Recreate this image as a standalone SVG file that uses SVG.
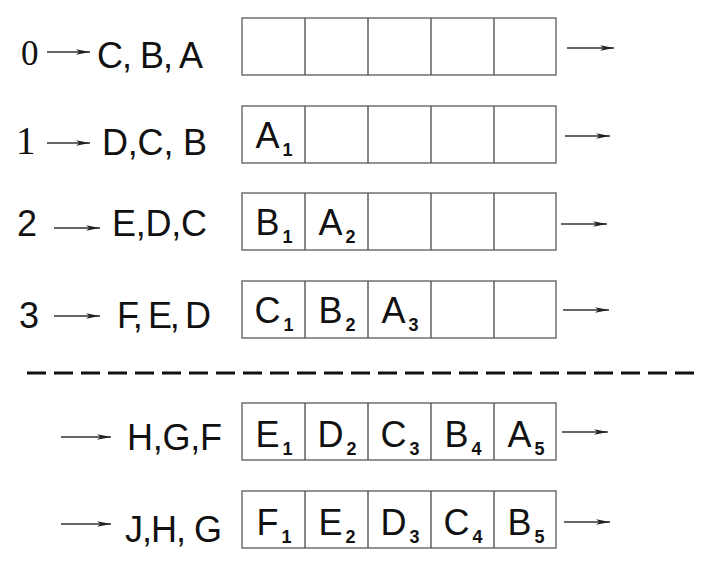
<svg xmlns="http://www.w3.org/2000/svg" width="714" height="572" viewBox="0 0 714 572">
<defs>
<style>
.cell{fill:#fff;stroke:#666;stroke-width:1.4}
.div{stroke:#555;stroke-width:1.4}
.lbl{font-family:"Liberation Sans",Arial,sans-serif;font-size:36px;fill:#111}
.num{font-family:"Liberation Serif","Times New Roman",serif;fill:#111}
.numS{font-family:"Liberation Sans",Arial,sans-serif;fill:#111}
.ct{font-family:"Liberation Sans",Arial,sans-serif;font-size:36px;fill:#111;text-anchor:middle}
.sub{font-size:18px;font-weight:bold}
.arr{stroke:#333;stroke-width:1.7;fill:none;marker-end:url(#ah)}
.dash{stroke:#111;stroke-width:3.2;stroke-dasharray:19 8;fill:none}
</style>
<marker id="ah" markerUnits="userSpaceOnUse" markerWidth="18" markerHeight="10" refX="14" refY="5" orient="auto">
<path d="M0,2.2 L14,5 L0,7.8 L3.5,5 Z" fill="#222"/>
</marker>
</defs>
<rect width="714" height="572" fill="#fff"/>

<g id="row0">
<text class="num" x="21" y="65" font-size="35">0</text>
<text class="lbl" x="97" y="68" textLength="106" lengthAdjust="spacing">C, B, A</text>
<rect class="cell" x="242" y="18" width="314" height="57"/>
<path class="div" d="M305,18V75M368,18V75M431,18V75M494,18V75"/>
</g>

<g id="row1">
<text class="num" x="16" y="154" font-size="39">1</text>
<text class="lbl" x="102" y="155" textLength="105" lengthAdjust="spacing">D,C, B</text>
<rect class="cell" x="242" y="106" width="314" height="57"/>
<path class="div" d="M305,106V163M368,106V163M431,106V163M494,106V163"/>
<text class="ct" x="274" y="148">A<tspan class="sub" dx="3" dy="8">1</tspan></text>
</g>

<g id="row2">
<text class="numS" x="17" y="236" font-size="36">2</text>
<text class="lbl" x="112" y="236" textLength="95" lengthAdjust="spacing">E,D,C</text>
<rect class="cell" x="242" y="193" width="314" height="57"/>
<path class="div" d="M305,193V250M368,193V250M431,193V250M494,193V250"/>
<text class="ct" x="274" y="235">B<tspan class="sub" dx="3" dy="8">1</tspan></text>
<text class="ct" x="337" y="235">A<tspan class="sub" dx="3" dy="8">2</tspan></text>
</g>

<g id="row3">
<text class="numS" x="19" y="328" font-size="36">3</text>
<text class="lbl" x="117" y="328" textLength="94" lengthAdjust="spacing">F, E, D</text>
<rect class="cell" x="242" y="281" width="314" height="57"/>
<path class="div" d="M305,281V338M368,281V338M431,281V338M494,281V338"/>
<text class="ct" x="274" y="323">C<tspan class="sub" dx="3" dy="8">1</tspan></text>
<text class="ct" x="337" y="323">B<tspan class="sub" dx="3" dy="8">2</tspan></text>
<text class="ct" x="400" y="323">A<tspan class="sub" dx="3" dy="8">3</tspan></text>
</g>

<g id="separator">
<line class="dash" x1="27" y1="373" x2="698" y2="373"/>
</g>

<g id="row4">
<text class="lbl" x="127" y="450" textLength="95" lengthAdjust="spacing">H,G,F</text>
<rect class="cell" x="242" y="403" width="314" height="57"/>
<path class="div" d="M305,403V460M368,403V460M431,403V460M494,403V460"/>
<text class="ct" x="274" y="447">E<tspan class="sub" dx="3" dy="8">1</tspan></text>
<text class="ct" x="337" y="447">D<tspan class="sub" dx="3" dy="8">2</tspan></text>
<text class="ct" x="400" y="447">C<tspan class="sub" dx="3" dy="8">3</tspan></text>
<text class="ct" x="463" y="447">B<tspan class="sub" dx="3" dy="8">4</tspan></text>
<text class="ct" x="526" y="447">A<tspan class="sub" dx="3" dy="8">5</tspan></text>
</g>

<g id="row5">
<text class="lbl" x="125" y="542" textLength="97" lengthAdjust="spacing">J,H, G</text>
<rect class="cell" x="242" y="491" width="314" height="57"/>
<path class="div" d="M305,491V548M368,491V548M431,491V548M494,491V548"/>
<text class="ct" x="274" y="535">F<tspan class="sub" dx="3" dy="8">1</tspan></text>
<text class="ct" x="337" y="535">E<tspan class="sub" dx="3" dy="8">2</tspan></text>
<text class="ct" x="400" y="535">D<tspan class="sub" dx="3" dy="8">3</tspan></text>
<text class="ct" x="463" y="535">C<tspan class="sub" dx="3" dy="8">4</tspan></text>
<text class="ct" x="526" y="535">B<tspan class="sub" dx="3" dy="8">5</tspan></text>
</g>

<g id="connectors">
<line class="arr" x1="47" y1="52" x2="90" y2="52"/>
<line class="arr" x1="47" y1="143" x2="90" y2="143"/>
<line class="arr" x1="54" y1="228" x2="100" y2="228"/>
<line class="arr" x1="54" y1="316" x2="100" y2="316"/>
<line class="arr" x1="61" y1="437" x2="111" y2="437"/>
<line class="arr" x1="61" y1="524" x2="111" y2="524"/>
<line class="arr" x1="567" y1="48" x2="614" y2="48"/>
<line class="arr" x1="565" y1="136" x2="610" y2="136"/>
<line class="arr" x1="561" y1="224" x2="607" y2="224"/>
<line class="arr" x1="563" y1="310" x2="609" y2="310"/>
<line class="arr" x1="562" y1="432" x2="608" y2="432"/>
<line class="arr" x1="564" y1="522" x2="610" y2="522"/>
</g>
</svg>
